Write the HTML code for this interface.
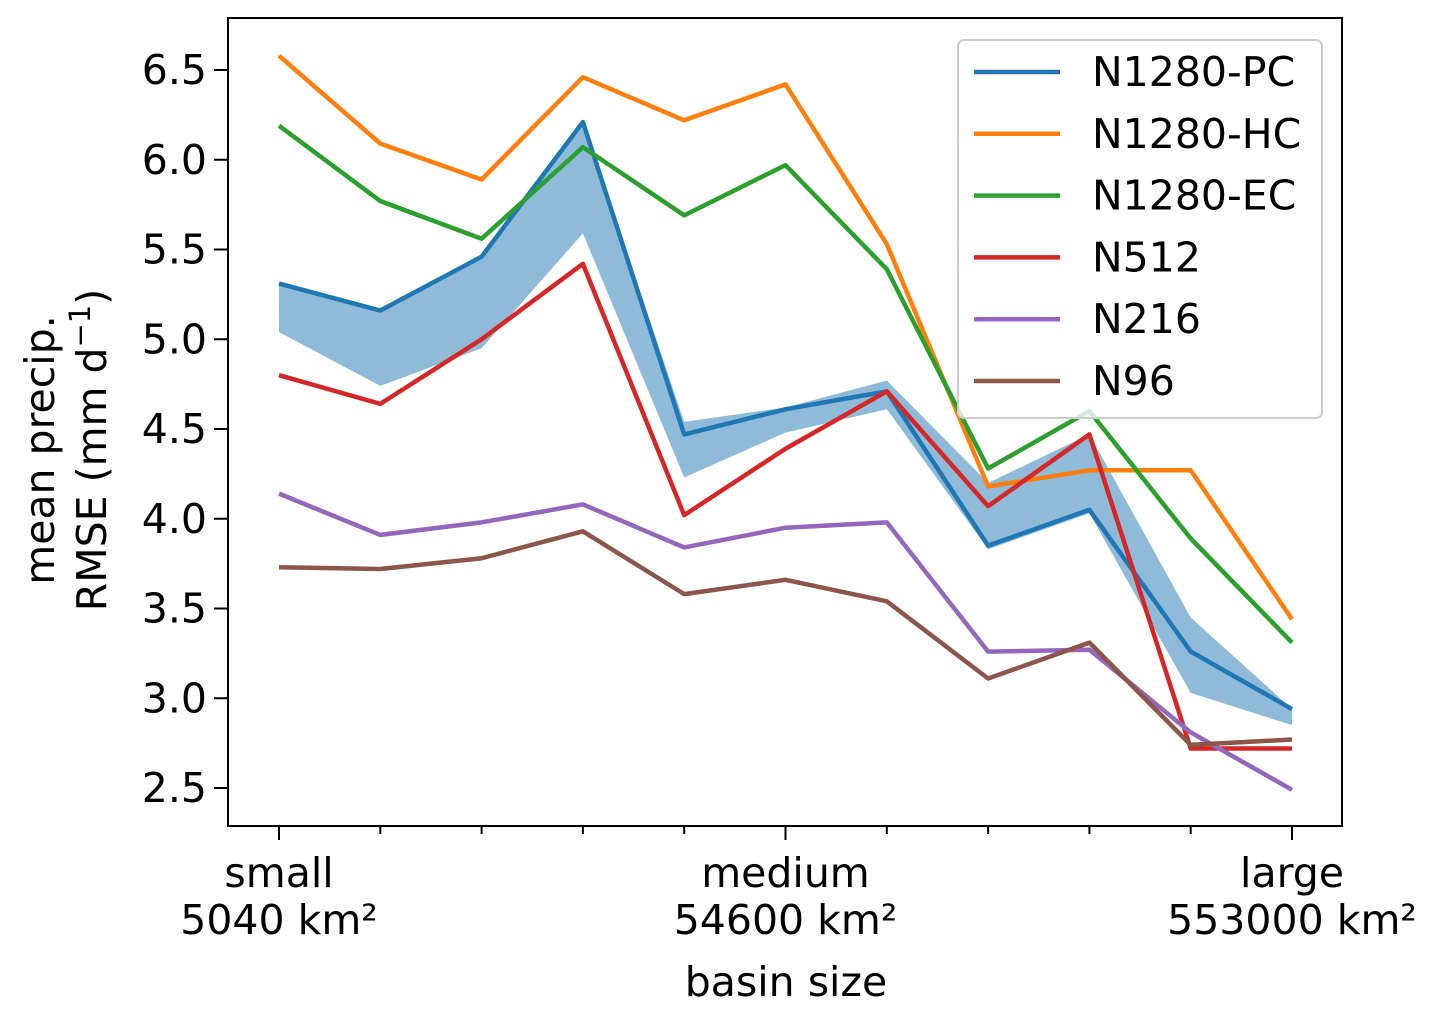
<!DOCTYPE html>
<html><head><meta charset="utf-8"><style>
body{margin:0;background:#fff;}
svg{display:block;font-family:"DejaVu Sans","Liberation Sans",sans-serif;}
</style></head><body>
<svg id="chart" width="1434" height="1015" viewBox="0 0 1434 1015">
<g id="plot"></g>
<rect x="228" y="18" width="1114" height="808" fill="none" stroke="#000" stroke-width="2"/>
<g id="xticks" font-size="41" text-anchor="middle"></g>
<g id="yticks" font-size="41" text-anchor="end"></g>
<text x="786" y="996" font-size="41" text-anchor="middle">basin size</text>
<g transform="translate(54,450) rotate(-90)" font-size="41" text-anchor="middle">
<text x="0" y="0">mean precip.</text>
<text x="0" y="52">RMSE (mm d<tspan dy="-16" font-size="29">−1</tspan><tspan dy="16">)</tspan></text>
</g>
<g id="legend"></g>
</svg>
<script>
const series = ["N1280-PC","N1280-HC","N1280-EC","N512","N216","N96"];
const colors = ["#1f77b4","#ff7f0e","#2ca02c","#d62728","#9467bd","#8c564b"];
const pc  = [5.31,5.16,5.46,6.21,4.47,4.61,4.71,3.85,4.05,3.26,2.94];
const hc  = [6.58,6.09,5.89,6.46,6.22,6.42,5.53,4.18,4.27,4.27,3.44];
const ec  = [6.19,5.77,5.56,6.07,5.69,5.97,5.39,4.28,4.60,3.89,3.31];
const n512= [4.80,4.64,5.00,5.42,4.02,4.39,4.71,4.07,4.47,2.72,2.72];
const n216= [4.14,3.91,3.98,4.08,3.84,3.95,3.98,3.26,3.27,2.81,2.49];
const n96 = [3.73,3.72,3.78,3.93,3.58,3.66,3.54,3.11,3.31,2.74,2.77];
const bandUpper = [5.31,5.16,5.46,6.21,4.54,4.62,4.77,4.20,4.47,3.45,2.94];
const bandLower = [5.04,4.74,4.95,5.59,4.23,4.48,4.61,3.83,4.03,3.03,2.85];
const yTicks = [2.5,3.0,3.5,4.0,4.5,5.0,5.5,6.0,6.5];
const xLabels = [["small","5040 km²"],null,null,null,null,["medium","54600 km²"],null,null,null,null,["large","553000 km²"]];
const allData = [pc,hc,ec,n512,n216,n96];
const NS="http://www.w3.org/2000/svg";
const X = i => 279 + i*(1292-279)/10;
const Y = v => 788 - (v-2.5)*179.5;
function mk(t,a,p){const e=document.createElementNS(NS,t);for(const k in a)e.setAttribute(k,a[k]);p.appendChild(e);return e;}
const plot=document.getElementById('plot');
let d=bandUpper.map((v,i)=>(i?'L':'M')+X(i)+','+Y(v)).join('');
for(let i=bandLower.length-1;i>=0;i--)d+='L'+X(i)+','+Y(bandLower[i]);
const band=mk('path',{d:d+'Z',fill:'#1f77b4','fill-opacity':0.5,stroke:'none'},plot);


allData.forEach((arr,s)=>{
  const p=mk('polyline',{points:arr.map((v,i)=>X(i)+','+Y(v)).join(' '),fill:'none',stroke:colors[s],'stroke-width':4.5,'stroke-linejoin':'round'},plot);
  
  
});
const xt=document.getElementById('xticks');
for(let i=0;i<11;i++){
  const big=!!xLabels[i];
  mk('line',{x1:X(i),x2:X(i),y1:826,y2:826+(big?14:8),stroke:'#000','stroke-width':2},xt);
  if(big){
    const t=mk('text',{x:X(i),y:887},xt);t.textContent=xLabels[i][0];
    
    
    const t2=mk('text',{x:X(i),y:934},xt);t2.textContent=xLabels[i][1];
    
    
  }
}
const yt=document.getElementById('yticks');
yTicks.forEach(v=>{
  mk('line',{x1:214,x2:228,y1:Y(v),y2:Y(v),stroke:'#000','stroke-width':2},yt);
  const t=mk('text',{x:207,y:Y(v)+14},yt);t.textContent=v.toFixed(1);
  
  
});
const lg=document.getElementById('legend');


mk('rect',{x:958,y:40,width:364,height:378,rx:6,fill:'#fff','fill-opacity':0.8,stroke:'#ccc','stroke-width':2},lg);
series.forEach((n,s)=>{
  const y=72+s*61.8;
  const g=mk('g',{},lg);
  
  
  mk('line',{x1:974,x2:1060,y1:y,y2:y,stroke:colors[s],'stroke-width':4.5},g);
  const t=mk('text',{x:1092,y:y+14,'font-size':41},g);t.textContent=n;
});
</script>
</body></html>
